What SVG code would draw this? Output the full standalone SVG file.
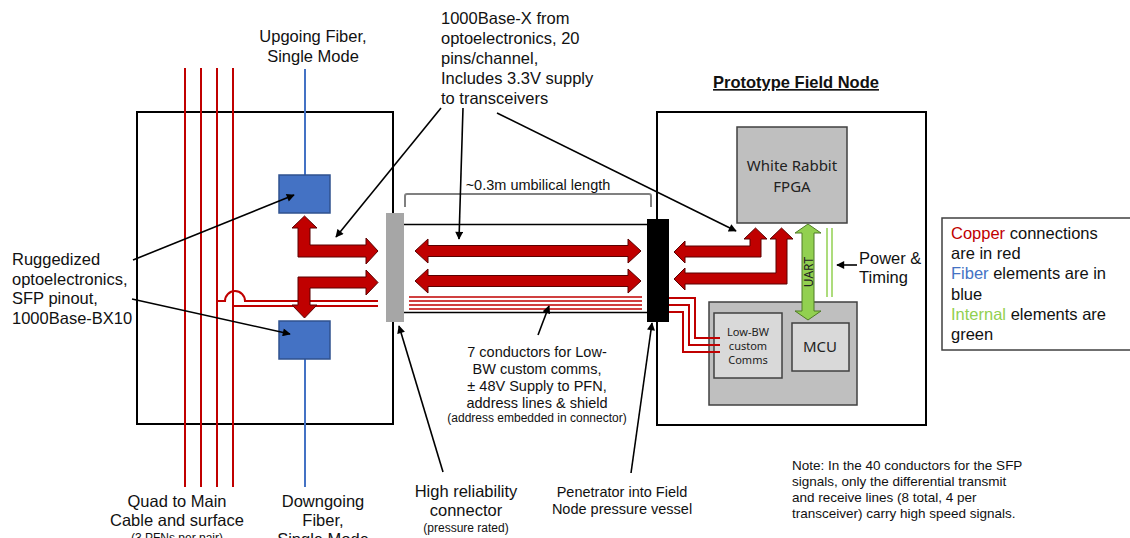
<svg xmlns="http://www.w3.org/2000/svg" width="1130" height="538" viewBox="0 0 1130 538">
<defs>
<style>
.lbl{font-family:"Liberation Sans",Arial,sans-serif;font-size:16.5px;fill:#111}
.sm{font-family:"Liberation Sans",Arial,sans-serif;font-size:12px;fill:#111}
.mid{font-family:"Liberation Sans",Arial,sans-serif;font-size:14.5px;fill:#111}
.note{font-family:"Liberation Sans",Arial,sans-serif;font-size:13.5px;fill:#111}
.cal{font-family:"Noto Sans","Open Sans",sans-serif;fill:#222}
.frame{fill:#fff;stroke:#000;stroke-width:2}
.cu{stroke:#C00000;stroke-width:2;fill:none}
.cuthin{stroke:#C00000;stroke-width:1.4;fill:none}
.fib{stroke:#4472C4;stroke-width:2;fill:none}
.sfp{fill:#4472C4;stroke:#2F528F;stroke-width:1.5}
.big{fill:#C00000;stroke:#5a0000;stroke-width:1}
.grn{fill:#92D050;stroke:#4f7a26;stroke-width:1}
.ptr{stroke:#000;stroke-width:1.6;fill:none;marker-end:url(#ah)}
.gbox{stroke:#404040;stroke-width:1.5}
</style>
<marker id="ah" viewBox="0 0 10 10" refX="9" refY="5" markerWidth="9" markerHeight="8" markerUnits="userSpaceOnUse" orient="auto">
<path d="M0,0 L10,5 L0,10 z" fill="#000"/>
</marker>
</defs>
<rect width="1130" height="538" fill="#fff"/>

<g id="surface-node">
<rect class="frame" x="137" y="112" width="256" height="312"/>
</g>

<g id="field-node">
<rect class="frame" x="657" y="112" width="269" height="313"/>
<text class="lbl" x="796" y="88" text-anchor="middle" font-weight="bold" text-decoration="underline">Prototype Field Node</text>
</g>

<g id="quad-cable">
<line class="cu" x1="185" y1="68" x2="185" y2="487"/>
<line class="cu" x1="201" y1="68" x2="201" y2="487"/>
<line class="cu" x1="217" y1="68" x2="217" y2="487"/>
<line class="cu" x1="233" y1="68" x2="233" y2="487"/>
</g>

<g id="fibers">
<line class="fib" x1="305" y1="69" x2="305" y2="175"/>
<line class="fib" x1="305" y1="359" x2="305" y2="487"/>
</g>

<g id="sfp-up">
<rect class="sfp" x="279" y="175" width="51" height="38"/>
</g>
<g id="sfp-down">
<rect class="sfp" x="279" y="321" width="51" height="38"/>
</g>

<g id="hr-connector">
<rect x="386" y="213" width="18" height="109" fill="#A6A6A6"/>
</g>
<g id="penetrator">
<rect x="647" y="219" width="22" height="103" fill="#000"/>
</g>

<g id="umbilical">
<line x1="404" y1="224.5" x2="647" y2="224.5" stroke="#000" stroke-width="1.5"/>
<line x1="404" y1="312.5" x2="647" y2="312.5" stroke="#000" stroke-width="1.5"/>
<path d="M405,207 V196 Q405,194 407,194 H649 Q651,194 651,196 V207" fill="none" stroke="#808080" stroke-width="2"/>
<text class="mid" x="538" y="190" text-anchor="middle">~0.3m umbilical length</text>
</g>

<g id="fpga">
<rect class="gbox" x="737" y="127" width="110" height="96" fill="#BFBFBF"/>
<text class="cal" x="792" y="171" text-anchor="middle" font-size="15">White Rabbit</text>
<text class="cal" x="792" y="192" text-anchor="middle" font-size="15">FPGA</text>
</g>

<g id="mcu-board">
<rect class="gbox" x="709" y="302" width="148" height="103" fill="#BFBFBF"/>
</g>
<g id="lowbw">
<rect class="gbox" x="714" y="313" width="68" height="65" fill="#D9D9D9"/>
<text class="cal" x="748" y="336" text-anchor="middle" font-size="11">Low-BW</text>
<text class="cal" x="748" y="350" text-anchor="middle" font-size="11">custom</text>
<text class="cal" x="748" y="364" text-anchor="middle" font-size="11">Comms</text>
</g>
<g id="mcu">
<rect class="gbox" x="792" y="323" width="57" height="48" fill="#D9D9D9"/>
<text class="cal" x="820" y="352" text-anchor="middle" font-size="15">MCU</text>
</g>

<g id="connectors">
<path class="cu" d="M217,301 H225 A10,10 0 0 1 245,301 H378"/>
<path class="cu" d="M233,306 H378"/>
<line class="cuthin" x1="409" y1="297" x2="642" y2="297"/>
<line class="cuthin" x1="409" y1="301" x2="642" y2="301"/>
<line class="cuthin" x1="409" y1="305" x2="642" y2="305"/>
<line class="cuthin" x1="409" y1="309" x2="642" y2="309"/>
<path class="cu" d="M669,298 H695 V338 H720"/>
<path class="cu" d="M669,305 H689 V345 H720"/>
<path class="cu" d="M669,312 H683 V352 H720"/>

<polygon class="big" points="304.5,216 317,228 310,228 310,245 366,245 366,238 378,251 366,264 366,257 298,257 298,228 292,228"/>
<polygon class="big" points="298,277 366,277 366,270 378,282.5 366,295 366,288 310,288 310,305 317,305 304.5,318 292,305 298,305"/>
<polygon class="big" points="415,251 428,239 428,245.5 628,245.5 628,239 641,251 628,263 628,256.5 428,256.5 428,263"/>
<polygon class="big" points="415,281 428,269 428,275.5 628,275.5 628,269 641,281 628,293 628,286.5 428,286.5 428,293"/>
<polygon class="big" points="674,252 685,241 685,246 750,246 750,239 744,239 755.5,228 767,239 761,239 761,257 685,257 685,263"/>
<polygon class="big" points="674,279 685,268 685,273 776,273 776,239 770,239 781.5,228 793,239 787,239 787,284 685,284 685,290"/>

<polygon class="grn" points="808,224 821,233 814,233 814,311 821,311 808,320 795,311 802,311 802,233 795,233"/>
<text class="cal" transform="translate(812.5,272) rotate(-90)" text-anchor="middle" font-size="12">UART</text>
<line x1="827" y1="228" x2="827" y2="297" stroke="#92D050" stroke-width="1.5"/>
<line x1="832" y1="228" x2="832" y2="297" stroke="#92D050" stroke-width="1.5"/>

<line class="ptr" x1="133" y1="260" x2="294" y2="195"/>
<line class="ptr" x1="132" y1="299" x2="290" y2="334"/>
<line class="ptr" x1="441" y1="108" x2="336" y2="237"/>
<line class="ptr" x1="463" y1="108" x2="459" y2="239"/>
<line class="ptr" x1="497" y1="113" x2="736" y2="231"/>
<line class="ptr" x1="538" y1="335" x2="549" y2="306"/>
<line class="ptr" x1="443" y1="472" x2="399" y2="326"/>
<line class="ptr" x1="631" y1="473" x2="652" y2="323"/>
<line class="ptr" x1="857" y1="265" x2="837" y2="265"/>
</g>

<g id="labels">
<text class="lbl" x="313" y="42" text-anchor="middle">Upgoing Fiber,</text>
<text class="lbl" x="313" y="62" text-anchor="middle">Single Mode</text>

<text class="lbl" x="441" y="24">1000Base-X from</text>
<text class="lbl" x="441" y="44">optoelectronics, 20</text>
<text class="lbl" x="441" y="64">pins/channel,</text>
<text class="lbl" x="441" y="84">Includes 3.3V supply</text>
<text class="lbl" x="441" y="104">to transceivers</text>

<text class="lbl" x="12" y="265">Ruggedized</text>
<text class="lbl" x="12" y="285">optoelectronics,</text>
<text class="lbl" x="12" y="304">SFP pinout,</text>
<text class="lbl" x="12" y="324">1000Base-BX10</text>

<text class="mid" x="537" y="357" text-anchor="middle">7 conductors for Low-</text>
<text class="mid" x="537" y="374" text-anchor="middle">BW custom comms,</text>
<text class="mid" x="537" y="391" text-anchor="middle">± 48V Supply to PFN,</text>
<text class="mid" x="537" y="408" text-anchor="middle">address lines &amp; shield</text>
<text class="sm" x="537" y="422" text-anchor="middle">(address embedded in connector)</text>

<text class="lbl" x="466" y="497" text-anchor="middle">High reliability</text>
<text class="lbl" x="466" y="516" text-anchor="middle">connector</text>
<text class="sm" x="466" y="532" text-anchor="middle">(pressure rated)</text>

<text class="mid" x="622" y="497" text-anchor="middle">Penetrator into Field</text>
<text class="mid" x="622" y="514" text-anchor="middle">Node pressure vessel</text>

<text class="lbl" x="177" y="507" text-anchor="middle">Quad to Main</text>
<text class="lbl" x="177" y="526" text-anchor="middle">Cable and surface</text>
<text class="sm" x="177" y="542" text-anchor="middle">(3 PFNs per pair)</text>

<text class="lbl" x="323" y="507" text-anchor="middle">Downgoing</text>
<text class="lbl" x="323" y="526" text-anchor="middle">Fiber,</text>
<text class="lbl" x="323" y="545" text-anchor="middle">Single Mode</text>

<text class="lbl" x="859" y="264">Power &amp;</text>
<text class="lbl" x="859" y="283">Timing</text>

<text class="note" x="792" y="470">Note: In the 40 conductors for the SFP</text>
<text class="note" x="792" y="486">signals, only the differential transmit</text>
<text class="note" x="792" y="502">and receive lines (8 total, 4 per</text>
<text class="note" x="792" y="518">transceiver) carry high speed signals.</text>
</g>

<g id="legend">
<rect x="942" y="218" width="195" height="132" fill="#fff" stroke="#404040" stroke-width="1.5"/>
<text class="lbl" x="951" y="239"><tspan fill="#C00000">Copper</tspan> connections</text>
<text class="lbl" x="951" y="259">are in red</text>
<text class="lbl" x="951" y="279"><tspan fill="#4472C4">Fiber</tspan> elements are in</text>
<text class="lbl" x="951" y="300">blue</text>
<text class="lbl" x="951" y="320"><tspan fill="#92D050">Internal</tspan> elements are</text>
<text class="lbl" x="951" y="340">green</text>
</g>
</svg>
